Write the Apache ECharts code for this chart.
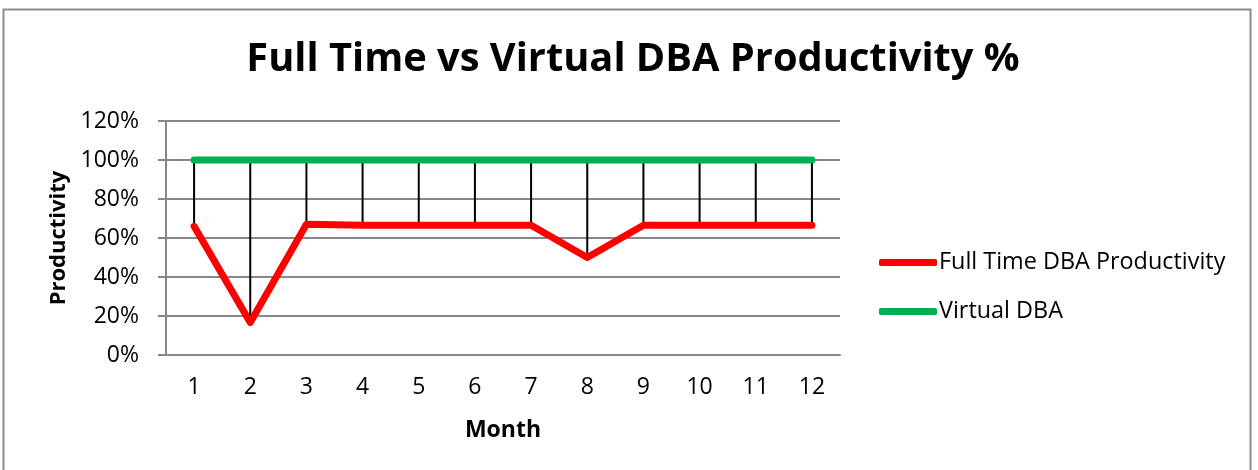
<!DOCTYPE html>
<html>
<head>
<meta charset="utf-8">
<script src="https://cdn.jsdelivr.net/npm/echarts@6/dist/echarts.min.js"></script>
<style>
  html, body { margin: 0; padding: 0; background: #fff; }
  #chart { width: 1258px; height: 470px; }
</style>
</head>
<body>
<div id="chart"></div>
<script>
const months = ['1', '2', '3', '4', '5', '6', '7', '8', '9', '10', '11', '12'];
const fullTime = [66, 16.7, 67, 66.5, 66.5, 66.5, 66.5, 50, 66.5, 66.5, 66.5, 66.5];
const virtualDba = [100, 100, 100, 100, 100, 100, 100, 100, 100, 100, 100, 100];
const yTicks = [0, 20, 40, 60, 80, 100, 120];

const font = 'Open Sans';
let chart = echarts.init(document.getElementById('chart'));

// high-low lines between the two series
const dropData = months.map(function (m, i) {
  return [i, fullTime[i], virtualDba[i]];
});

let option = {
  animation: false,
  title: {
    text: 'Full Time vs Virtual DBA Productivity %',
    left: 628,
    textAlign: 'center',
    top: 35,
    textStyle: { fontFamily: font, fontWeight: 'bold', fontSize: 39.8, color: '#000' }
  },
  graphic: [{
    type: 'rect',
    shape: { x: 3.5, y: 9.5, width: 1247, height: 480 },
    style: { fill: 'none', stroke: '#8c8c8c', lineWidth: 2 }
  }],
  legend: {
    orient: 'vertical',
    left: 874,
    top: 246,
    itemWidth: 58,
    itemHeight: 7,
    itemGap: 26,
    icon: 'roundRect',
    data: ['Full Time DBA Productivity', 'Virtual DBA'],
    textStyle: { fontFamily: font, fontSize: 23.4, color: '#000', padding: [0, 0, 0, -3], lineHeight: 22 }
  },
  grid: { left: 166, right: 418, top: 121, bottom: 115 },
  xAxis: {
    type: 'category',
    data: months,
    boundaryGap: true,
    name: 'Month',
    nameLocation: 'middle',
    nameGap: 64,
    nameTextStyle: { fontFamily: font, fontWeight: 'bold', fontSize: 23, color: '#000' },
    axisLine: { lineStyle: { color: '#878787', width: 2 } },
    axisTick: { show: false },
    axisLabel: { fontFamily: font, fontSize: 23, color: '#000', margin: 21 }
  },
  yAxis: {
    type: 'value',
    min: yTicks[0],
    max: yTicks[yTicks.length - 1],
    interval: 20,
    name: 'Productivity',
    nameLocation: 'middle',
    nameGap: 94,
    nameTextStyle: { fontFamily: font, fontWeight: 'bold', fontSize: 22, color: '#000' },
    axisLine: { show: true, lineStyle: { color: '#878787', width: 2 } },
    axisTick: { show: true, length: 8, lineStyle: { color: '#878787', width: 2 } },
    splitLine: { lineStyle: { color: '#878787', width: 2 } },
    axisLabel: {
      fontFamily: font, fontSize: 23, color: '#000', margin: 27,
      formatter: function (v) { return v + '%'; }
    }
  },
  series: [
    {
      name: 'drop',
      type: 'custom',
      data: dropData,
      z: 1,
      silent: true,
      renderItem: function (params, api) {
        const lo = api.coord([api.value(0), api.value(1)]);
        const hi = api.coord([api.value(0), api.value(2)]);
        return {
          type: 'line',
          shape: { x1: lo[0], y1: lo[1], x2: hi[0], y2: hi[1] },
          style: { stroke: '#000', lineWidth: 2 }
        };
      }
    },
    {
      name: 'Full Time DBA Productivity',
      type: 'line',
      data: fullTime,
      z: 3,
      symbol: 'none',
      color: '#ff0000',
      lineStyle: { color: '#ff0000', width: 7, cap: 'round', join: 'round' }
    },
    {
      name: 'Virtual DBA',
      type: 'line',
      data: virtualDba,
      z: 2,
      symbol: 'none',
      color: '#00b050',
      lineStyle: { color: '#00b050', width: 7, cap: 'round', join: 'round' }
    }
  ]
};

chart.setOption(option);
</script>
</body>
</html>
